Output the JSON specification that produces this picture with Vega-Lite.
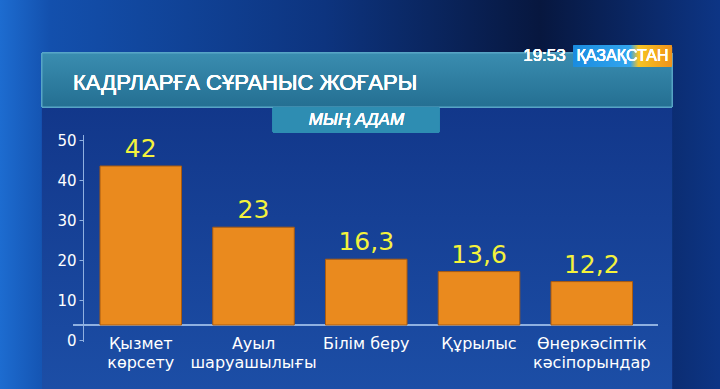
{
  "$schema": "https://vega.github.io/schema/vega-lite/v6.json",
  "autosize": "none",
  "width": 630,
  "height": 300,
  "padding": {"left": 42, "right": 48, "top": 40, "bottom": 49},
  "background": "#0c2f78",
  "config": {
    "view": {"stroke": null},
    "locale": {"number": {"decimal": ",", "thousands": " ", "grouping": [3], "currency": ["", ""]}}
  },
  "data": {
    "values": [
      {"sector": "Қызмет|көрсету", "value": 42, "bar_top": 43.5},
      {"sector": "Ауыл|шаруашылығы", "value": 23, "bar_top": 28.2},
      {"sector": "Білім беру", "value": 16.3, "bar_top": 20.2},
      {"sector": "Құрылыс", "value": 13.6, "bar_top": 17.1},
      {"sector": "Өнеркәсіптік|кәсіпорындар", "value": 12.2, "bar_top": 14.6}
    ]
  },
  "layer": [
    {
      "mark": {"type": "rect", "clip": false, "fill": {"gradient": "linear", "x1": 0, "y1": 0, "x2": 1, "y2": 0, "stops": [
        {"offset": 0, "color": "#1d6cd0"}, {"offset": 0.07, "color": "#1350ad"}, {"offset": 0.45, "color": "#0d347f"}, {"offset": 0.75, "color": "#07173f"}, {"offset": 1, "color": "#0d3585"}]}},
      "encoding": {
        "x": {"datum": "Қызмет|көрсету", "bandPosition": -1.227},
        "x2": {"datum": "Өнеркәсіптік|кәсіпорындар", "bandPosition": 2.074},
        "y": {"datum": 85, "type": "quantitative"},
        "y2": {"datum": -12.25}
      }
    },
    {
      "mark": {"type": "rect", "clip": false, "fill": {"gradient": "linear", "x1": 0, "y1": 0, "x2": 0, "y2": 1, "stops": [
        {"offset": 0, "color": "#12378a"}, {"offset": 1, "color": "#1c4ea6"}]}},
      "encoding": {
        "x": {"datum": "Қызмет|көрсету", "bandPosition": -0.712},
        "x2": {"datum": "Өнеркәсіптік|кәсіпорындар", "bandPosition": 1.485},
        "y": {"datum": 58.25, "type": "quantitative"},
        "y2": {"datum": -12.25}
      }
    },
    {
      "mark": {"type": "rect", "clip": false, "stroke": "#5aa8c8", "strokeWidth": 1, "fill": {"gradient": "linear", "x1": 0, "y1": 0, "x2": 0, "y2": 1, "stops": [
        {"offset": 0, "color": "#3a8db0"}, {"offset": 1, "color": "#246f92"}]}},
      "encoding": {
        "x": {"datum": "Қызмет|көрсету", "bandPosition": -0.712},
        "x2": {"datum": "Өнеркәсіптік|кәсіпорындар", "bandPosition": 1.485},
        "y": {"datum": 71.75, "type": "quantitative"},
        "y2": {"datum": 58.25}
      }
    },
    {
      "mark": {"type": "rect", "clip": false, "fill": "#2e8db2", "cornerRadius": 2},
      "encoding": {
        "x": {"datum": "Білім беру", "bandPosition": -0.65},
        "x2": {"datum": "Білім беру", "bandPosition": 1.399},
        "y": {"datum": 58.25, "type": "quantitative"},
        "y2": {"datum": 51.75}
      }
    },
    {
      "mark": {"type": "text", "clip": false, "text": "МЫҢ АДАМ", "font": "Liberation Sans", "fontStyle": "italic", "fontSize": 17, "fill": "white", "align": "center", "baseline": "middle"},
      "encoding": {
        "x": {"datum": "Білім беру", "bandPosition": 0.38},
        "y": {"datum": 54.9, "type": "quantitative"}
      }
    },
    {
      "mark": {"type": "text", "clip": false, "text": "КАДРЛАРҒА СҰРАНЫС ЖОҒАРЫ", "font": "Liberation Sans", "fontSize": 22, "fill": "white", "align": "left", "baseline": "middle"},
      "encoding": {
        "x": {"datum": "Қызмет|көрсету", "bandPosition": -0.331},
        "y": {"datum": 64.25, "type": "quantitative"}
      }
    },
    {
      "mark": {"type": "text", "clip": false, "text": "19:53", "font": "Liberation Sans", "fontSize": 17, "fill": "white", "align": "center", "baseline": "middle"},
      "encoding": {
        "x": {"datum": "Өнеркәсіптік|кәсіпорындар", "bandPosition": -0.08},
        "y": {"datum": 70.9, "type": "quantitative"}
      }
    },
    {
      "mark": {"type": "rect", "clip": false, "cornerRadius": 2, "fill": {"gradient": "linear", "x1": 0, "y1": 0, "x2": 1, "y2": 0, "stops": [
        {"offset": 0, "color": "#1a8ce0"}, {"offset": 0.58, "color": "#33a6ee"}, {"offset": 0.66, "color": "#f6c424"}, {"offset": 1, "color": "#f0921a"}]}},
      "encoding": {
        "x": {"datum": "Өнеркәсіптік|кәсіпорындар", "bandPosition": 0.27},
        "x2": {"datum": "Өнеркәсіптік|кәсіпорындар", "bandPosition": 1.485},
        "y": {"datum": 73.75, "type": "quantitative"},
        "y2": {"datum": 68.25}
      }
    },
    {
      "mark": {"type": "text", "clip": false, "text": "ҚАЗАҚСТАН", "font": "Liberation Sans", "fontSize": 16, "fill": "white", "align": "center", "baseline": "middle"},
      "encoding": {
        "x": {"datum": "Өнеркәсіптік|кәсіпорындар", "bandPosition": 0.877},
        "y": {"datum": 70.9, "type": "quantitative"}
      }
    },
    {
      "mark": {"type": "rule", "clip": false, "color": "#8fb0e0", "strokeWidth": 1},
      "encoding": {
        "x": {"datum": "Қызмет|көрсету", "bandPosition": -0.2025},
        "y": {"datum": 51.25, "type": "quantitative"},
        "y2": {"datum": -0.5}
      }
    },
    {
      "mark": {"type": "rule", "clip": false, "color": "#8fb0e0", "strokeWidth": 1.5},
      "encoding": {
        "x": {"datum": "Қызмет|көрсету", "bandPosition": -0.331},
        "x2": {"datum": "Өнеркәсіптік|кәсіпорындар", "bandPosition": 1.313},
        "y": {"datum": 3.75, "type": "quantitative"}
      }
    },
    {
      "mark": {"type": "bar", "fill": "#ea8a1e", "stroke": "#a85a10", "strokeWidth": 1},
      "encoding": {
        "x": {
          "field": "sector", "type": "nominal", "sort": null, "title": null,
          "scale": {"domain": ["Қызмет|көрсету", "Ауыл|шаруашылығы", "Білім беру", "Құрылыс", "Өнеркәсіптік|кәсіпорындар"], "paddingInner": 0.277, "paddingOuter": 0.4324, "align": 0.595},
          "axis": {"title": null, "orient": "bottom", "domain": false, "ticks": false, "labelAngle": 0, "labelAlign": "center", "bandPosition": 0.5, "labelExpr": "split(datum.label, '|')", "labelColor": "white", "labelFont": "DejaVu Sans", "labelFontSize": 16, "labelLineHeight": 19, "labelPadding": 0, "offset": -5, "labelBaseline": "top", "zindex": 2}
        },
        "y": {
          "field": "bar_top", "type": "quantitative", "title": null,
          "scale": {"domain": [0, 75], "nice": false, "zero": true},
          "axis": {"title": null, "values": [0, 10, 20, 30, 40, 50], "domain": false, "grid": false, "offset": -41, "tickSize": 4, "tickColor": "#8fb0e0", "labelColor": "white", "labelFont": "DejaVu Sans", "labelFontSize": 15, "labelPadding": 3, "zindex": 2}
        },
        "y2": {"datum": 3.75}
      }
    },
    {
      "mark": {"type": "text", "font": "DejaVu Sans", "fontSize": 25, "fill": "#f4f23c", "baseline": "alphabetic", "align": "center", "dy": -9},
      "encoding": {
        "x": {"field": "sector", "type": "nominal", "sort": null, "title": null},
        "y": {"field": "bar_top", "type": "quantitative", "title": null},
        "text": {"field": "value", "type": "quantitative", "format": ".3~g"}
      }
    }
  ]
}
